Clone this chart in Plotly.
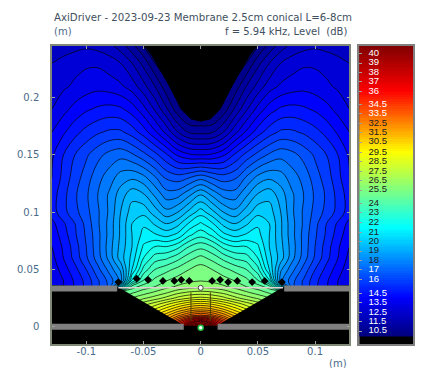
import plotly.graph_objects as go

# half-plane field (mirrored around x = 0)
x_half = [0, .01, .02, .03, .04, .05, .06, .07, .08, .09, .10, .11, .12, .13]
y_rows = [0, .005, .01, .015, .02, .025, .03, .035, .04, .05, .06, .07, .08, .09, .10, .115, .13, .15, .17, .19, .21, .23, .245]
level_rows = [
    [40, 39, 36, 33.5, 31.5, 30, 28.5, 27, 25, 22, 20, 18, 16, 14],
    [37.5, 36, 34, 32, 30.7, 29.5, 28.2, 26.5, 24.5, 21.5, 19.5, 17.5, 15.5, 13.5],
    [33.5, 33, 32, 30.8, 29.8, 28.8, 27.7, 26, 24, 21, 19, 17, 15, 13],
    [31.5, 31.2, 30.5, 29.6, 28.7, 27.9, 26.9, 25.5, 23.5, 20.5, 18.5, 16.5, 14.5, 12.8],
    [30, 29.7, 29.1, 28.4, 27.7, 27.1, 26.3, 25.2, 23, 20, 18, 16, 14.2, 12.8],
    [28.2, 28, 27.6, 27, 26.5, 26.1, 25.6, 24.9, 22.5, 19.5, 17.5, 15.5, 14, 12.8],
    [27, 26.9, 26.6, 26.1, 25.7, 25.3, 24.9, 24.4, 22, 19, 17, 15, 13.8, 12.8],
    [26, 25.9, 25.7, 25.4, 25, 24.7, 24.1, 21, 16.8, 15.9, 15, 14.3, 13.6, 13],
    [25.6, 25.5, 25.3, 25, 24.6, 23.9, 22.2, 18, 16.8, 15.9, 15, 14.3, 13.6, 13],
    [25.3, 25, 24.6, 24.2, 23.8, 22.8, 20.8, 18.5, 17.4, 16.4, 15.4, 14.6, 13.9, 13.2],
    [24.6, 24.2, 23.6, 23.1, 22.9, 22, 20.4, 19.3, 18, 16.9, 15.9, 15, 14.2, 13.4],
    [23.6, 23.2, 22.4, 22, 22, 21.5, 20.2, 19.2, 18.1, 17, 16, 15.1, 14.3, 13.6],
    [22.4, 21.9, 21, 20.6, 20.9, 21, 20.2, 19.1, 18, 17, 16.1, 15.3, 14.5, 13.8],
    [21.5, 20.9, 20, 19.6, 20.1, 20.7, 20.2, 19.1, 18, 17.1, 16.2, 15.4, 14.7, 14],
    [20.5, 19.8, 19, 18.6, 19.3, 20, 19.9, 19, 17.9, 17.1, 16.4, 15.8, 15.2, 14.5],
    [19, 18.3, 17.6, 17.5, 18.3, 19.1, 19.4, 18.7, 17.9, 17.2, 16.5, 15.9, 15.2, 14.5],
    [17, 16.6, 16.3, 16.5, 17.3, 18, 18.3, 18.1, 17.5, 17, 16.3, 15.7, 15, 14.2],
    [13.6, 13.7, 14.1, 14.9, 15.6, 16.2, 16.7, 17, 16.8, 16.4, 15.9, 15.4, 14.8, 14.1],
    [11, 11.1, 11.8, 12.8, 13.7, 14.5, 15.1, 15.5, 15.5, 15.3, 15, 14.6, 14.1, 13.6],
    [9.5, 9.5, 10.2, 11.3, 12.3, 13.2, 13.9, 14.3, 14.4, 14.3, 14.1, 13.8, 13.4, 13],
    [9.5, 9.5, 9.5, 10.2, 11.2, 12, 12.7, 13.1, 13.3, 13.4, 13.3, 13.1, 12.9, 12.6],
    [9.5, 9.5, 9.5, 9.5, 10, 11, 11.8, 12.4, 12.7, 12.9, 12.9, 12.8, 12.6, 12.4],
    [9.5, 9.5, 9.5, 9.5, 9.5, 10, 10.8, 11.5, 12, 12.2, 12.3, 12.2, 12.1, 12],
]

# geometry
hole_x = [-.0496, -.0435, -.0348, -.0261, -.0174, -.0087, 0, .0087, .0174, .0261, .0348, .0435, .0496]
hole_y = [.245, .2374, .2226, .207, .1904, .181, .179, .181, .1904, .207, .2226, .2374, .245]
body_x = [-.13, -.072, -.014, .014, .072, .13, .13, -.13]
body_y = [.0365, .0345, .001, .001, .0345, .0365, -.015, -.015]
bar_upper_x = [.073, .1325]
bar_upper_y = [.0335, .0335]
bar_lower_x = [.0148, .1325]
bar_lower_y = [0, 0]
membrane_x = [-.072, .072]
membrane_y = [.034, .034]
blob_x = [-.072, -.056, -.046, -.033, -.023, -.017, -.010, .010, .017, .024, .032, .045, .056, .071]
blob_y = [.039, .042, .041, .040, .040, .041, .040, .040, .041, .039, .040, .039, .040, .039]
col_line_x = [.0085, .0085]
col_line_y = [.005, .03]

# colour bar
bar_labels = ["40", "39", "38", "37", "36", "34.5", "33.5", "32.5", "31.5", "30.5", "29.5", "28.5", "27.5", "26.5",
              "25.5", "24", "23", "22", "21", "20", "19", "18", "17", "16", "14.5", "13.5", "12.5", "11.5", "10.5"]
bar_values = [40, 39, 38, 37, 36, 34.6, 33.6, 32.6, 31.6, 30.6, 29.5, 28.5, 27.5, 26.5, 25.5, 24.1, 23.1, 22, 21, 20,
              19, 18, 17, 16, 14.5, 13.5, 12.5, 11.5, 10.5]
bar_colors = ["white"] * 7 + ["#202020"] * 15 + ["white"] * 7
bar_gradient = [10 + 0.25 * i for i in range(124)]

x_ticks = [-.1, -.05, 0, .05, .1]
x_tick_text = ["-0.1", "-0.05", "0", "0.05", "0.1"]
y_ticks = [0, .05, .1, .15, .2]
y_tick_text = ["0", "0.05", "0.1", "0.15", "0.2"]

ZMIN, ZMAX = 10, 40.8
def st(v):
    return (v - ZMIN) / (ZMAX - ZMIN)
jet = [[0, "#000080"], [st(14), "#0000ff"], [st(21.5), "#00ffff"], [st(25.5), "#80ff80"],
       [st(29.5), "#ffff00"], [st(36), "#ff0000"], [1, "#800000"]]

x_full = [-v for v in x_half[:0:-1]] + x_half
z_full = [row[:0:-1] + row for row in level_rows]

TXT = "#4a6a8a"
FONT = "DejaVu Sans"
GRAY = "#808080"

fig = go.Figure()
fig.add_trace(go.Contour(x=x_full, y=y_rows, z=z_full, colorscale=jet, zmin=ZMIN, zmax=ZMAX, showscale=False,
                         contours=dict(coloring="fill", start=10, end=41, size=.6),
                         line=dict(color="#000000", width=.7, smoothing=1), hoverinfo="skip"))
fig.add_trace(go.Scatter(x=hole_x, y=hole_y, fill="toself", fillcolor="black", mode="none", hoverinfo="skip"))
fig.add_trace(go.Scatter(x=body_x, y=body_y, fill="toself", fillcolor="black", mode="none", hoverinfo="skip"))
for sign in (-1, 1):
    fig.add_trace(go.Scatter(x=[sign * v for v in bar_upper_x], y=bar_upper_y, mode="lines",
                             line=dict(color=GRAY, width=6), cliponaxis=False, hoverinfo="skip"))
    fig.add_trace(go.Scatter(x=[sign * v for v in bar_lower_x], y=bar_lower_y, mode="lines",
                             line=dict(color=GRAY, width=6), cliponaxis=False, hoverinfo="skip"))
    fig.add_trace(go.Scatter(x=[sign * col_line_x[0]] * 2, y=col_line_y, mode="lines",
                             line=dict(color="#504000", width=1), hoverinfo="skip"))
fig.add_trace(go.Scatter(x=membrane_x, y=membrane_y, mode="lines", line=dict(color="#e0d0d0", width=1.5), hoverinfo="skip"))
fig.add_trace(go.Scatter(x=blob_x, y=blob_y, mode="markers", marker=dict(symbol="diamond", size=6, color="black"), hoverinfo="skip"))
fig.add_trace(go.Scatter(x=[0], y=[.034], mode="markers", marker=dict(size=5, color="white", line=dict(color="#444444", width=1)), hoverinfo="skip"))
fig.add_trace(go.Scatter(x=[0], y=[-.0008], mode="markers", marker=dict(size=5, color="white", line=dict(color="#20c040", width=1.5)), hoverinfo="skip"))

fig.add_trace(go.Heatmap(x=[0, 1], y=bar_gradient, z=[[v, v] for v in bar_gradient], colorscale=jet, zmin=ZMIN, zmax=ZMAX,
                         showscale=False, xaxis="x2", yaxis="y2", hoverinfo="skip"))
fig.add_trace(go.Scatter(x=[.17] * len(bar_labels), y=bar_values, text=bar_labels, mode="text", textposition="middle right",
                         textfont=dict(family="Liberation Sans", size=9.5, color=bar_colors), xaxis="x2", yaxis="y2", hoverinfo="skip"))

axis_common = dict(showgrid=False, zeroline=False, showline=True, mirror="ticks", linecolor="#808878", linewidth=1.5,
                   ticks="inside", ticklen=3, tickcolor="#a0a0a0", tickfont=dict(family=FONT, size=10, color=TXT))
# the page adds a body margin, so the figure is laid out 7 px up and left of the target positions
W = 299 + 10 + 54
fig.update_layout(
    width=414, height=360, margin=dict(l=44, r=414 - 44 - W, t=38, b=24, pad=0), showlegend=False,
    paper_bgcolor="white", plot_bgcolor="black",
    xaxis=dict(domain=[0, 299 / W], range=[-.13, .13], tickvals=x_ticks, ticktext=x_tick_text, ticklabelstandoff=-3, **axis_common),
    yaxis=dict(domain=[0, 1], range=[-.015, .245], tickvals=y_ticks, ticktext=y_tick_text, ticklabelstandoff=9, **axis_common),
    xaxis2=dict(domain=[309 / W, 1], range=[0, 1], anchor="y2", showticklabels=False, showgrid=False, zeroline=False,
                showline=True, mirror=True, linecolor="#808080", linewidth=1.5, ticks=""),
    yaxis2=dict(domain=[0, 1], range=[9.12, 40.82], anchor="x2", showticklabels=False, showgrid=False, zeroline=False,
                showline=True, mirror=True, linecolor="#808080", linewidth=1.5, ticks="inside", ticklen=3,
                tickcolor="#a0a0a0", tickvals=bar_values),
    annotations=[
        dict(text="AxiDriver - 2023-09-23 Membrane 2.5cm conical L=6-8cm", xref="paper", yref="paper", x=0, y=1, yshift=21,
             xanchor="left", yanchor="bottom", showarrow=False, font=dict(family=FONT, size=10.2, color="#405060")),
        dict(text="(m)", xref="paper", yref="paper", x=0, y=1, yshift=7, xanchor="left", yanchor="bottom", showarrow=False,
             font=dict(family=FONT, size=10, color=TXT)),
        dict(text="f = 5.94 kHz, Level  (dB)", xref="paper", yref="paper", x=299 / W, y=1, yshift=7, xanchor="right",
             yanchor="bottom", showarrow=False, font=dict(family=FONT, size=10, color="#405060")),
        dict(text="(m)", xref="paper", yref="paper", x=299 / W, y=0, yshift=-12, xanchor="right", yanchor="top",
             showarrow=False, font=dict(family=FONT, size=10, color=TXT)),
    ],
)
fig.write_html("out.html")
